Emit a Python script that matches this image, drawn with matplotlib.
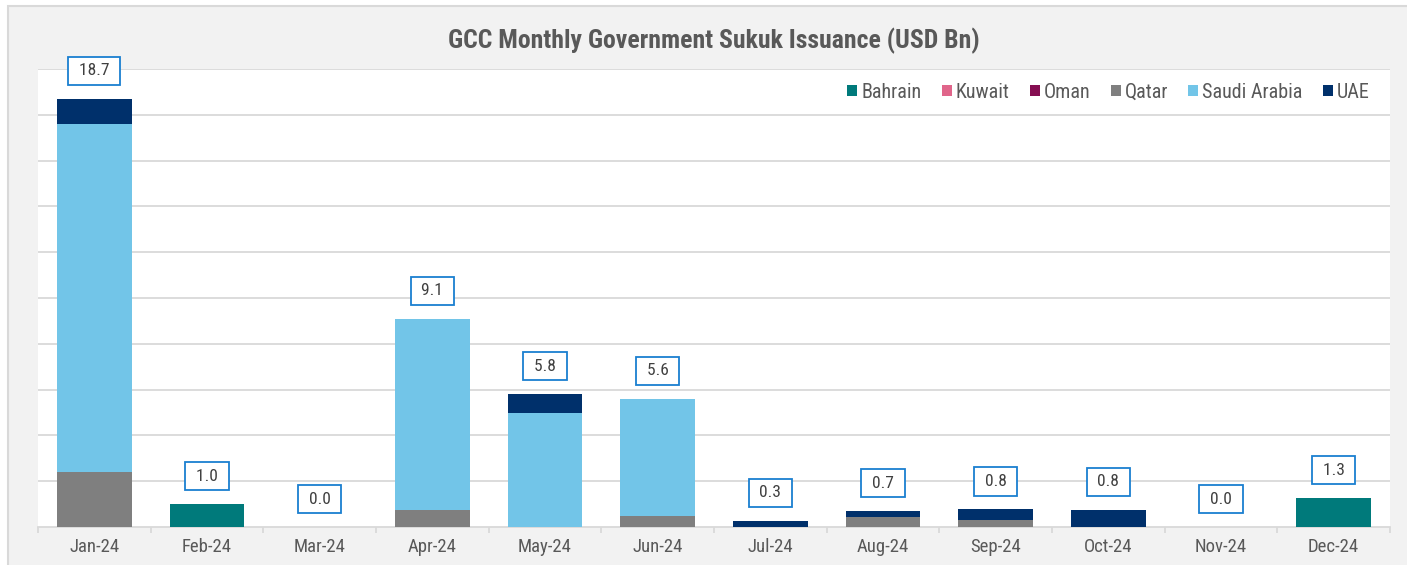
import numpy as np
import matplotlib.pyplot as plt
from matplotlib import font_manager
from matplotlib.patches import Rectangle

months = ['Jan-24', 'Feb-24', 'Mar-24', 'Apr-24', 'May-24', 'Jun-24',
          'Jul-24', 'Aug-24', 'Sep-24', 'Oct-24', 'Nov-24', 'Dec-24']
bahrain = [0, 1.0, 0, 0, 0, 0, 0, 0, 0, 0, 0, 1.27]
kuwait = [0] * 12
oman = [0] * 12
qatar = [2.4, 0, 0, 0.75, 0, 0.5, 0, 0.45, 0.32, 0, 0, 0]
saudi = [15.2, 0, 0, 8.35, 5.0, 5.1, 0, 0, 0, 0, 0, 0]
uae = [1.1, 0, 0, 0, 0.8, 0, 0.28, 0.25, 0.45, 0.76, 0, 0]

series = [('Bahrain', bahrain, '#007a7b'),
          ('Kuwait', kuwait, '#e0658a'),
          ('Oman', oman, '#850e52'),
          ('Qatar', qatar, '#7f7f7f'),
          ('Saudi Arabia', saudi, '#72c5e8'),
          ('UAE', uae, '#00306b')]

# pick a narrow-ish font if one is there
installed = set(f.name for f in font_manager.fontManager.ttflist)
narrow = 'DejaVu Sans'
for cand in ['Liberation Sans Narrow', 'Roboto Condensed', 'Open Sans Condensed',
             'DejaVu Sans Condensed', 'Roboto', 'Liberation Sans']:
    if cand in installed:
        narrow = cand
        break
plt.rcParams['font.family'] = [narrow, 'DejaVu Sans']

fig = plt.figure(figsize=(14.07, 5.65), dpi=100)
fig.patch.set_facecolor('white')
# chart frame
fig.patches.append(Rectangle((8 / 1407, -0.01), 1.0, 1 - 5.5 / 565 + 0.01,
                             transform=fig.transFigure, facecolor='#f2f2f2',
                             edgecolor='#d9d9d9', linewidth=1.5, zorder=-5))

ax = fig.add_axes([38 / 1407, 1 - 527 / 565, (1390 - 38) / 1407, (527 - 69) / 565])
ax.set_facecolor('white')

x = np.arange(len(months))
bottom = np.zeros(len(months))
for name, vals, col in series:
    ax.bar(x, vals, 0.665, bottom=bottom, color=col, label=name, zorder=3)
    bottom += np.array(vals)

for xi, tot in zip(x, bottom):
    ax.annotate(' %.1f ' % tot, (xi, tot), xytext=(0, 20), textcoords='offset points',
                ha='center', va='center', fontsize=12.5, color='#404040',
                bbox=dict(boxstyle='square,pad=0.38', fc='white', ec='#1a7fd0', lw=1.3),
                zorder=5)

ax.set_ylim(0, 20)
ax.set_xlim(-0.5, len(months) - 0.5)
ax.set_yticks(np.arange(2, 21, 2))
ax.yaxis.grid(True, color='#d9d9d9', linewidth=1.3, zorder=0)
ax.set_axisbelow(True)
ax.tick_params(axis='y', left=False, labelleft=False)
for s in ['top', 'left', 'right']:
    ax.spines[s].set_visible(False)
ax.spines['bottom'].set_color('#d9d9d9')
ax.spines['bottom'].set_linewidth(1.3)

ax.set_xticks(x)
ax.set_xticklabels(months, fontsize=13.5, color='#595959')
ax.tick_params(axis='x', length=0, pad=8)
ax.set_xticks(np.arange(-0.5, len(months), 1), minor=True)
ax.tick_params(axis='x', which='minor', length=4, color='#d9d9d9', width=1.3)

fig.text((38 + 1390) / 2 / 1407, 1 - 41 / 565, 'GCC Monthly Government Sukuk Issuance (USD Bn)',
         ha='center', va='center', fontsize=18.5, fontweight='bold', color='#595959')

ax.legend(loc='upper right', bbox_to_anchor=(0.9985, 1.01), ncol=6, frameon=False,
          fontsize=14.5, labelcolor='#595959', handlelength=0.5, handleheight=0.5,
          handletextpad=0.2, columnspacing=1.0)

fig.savefig('out.png', dpi=100, facecolor=fig.get_facecolor())
